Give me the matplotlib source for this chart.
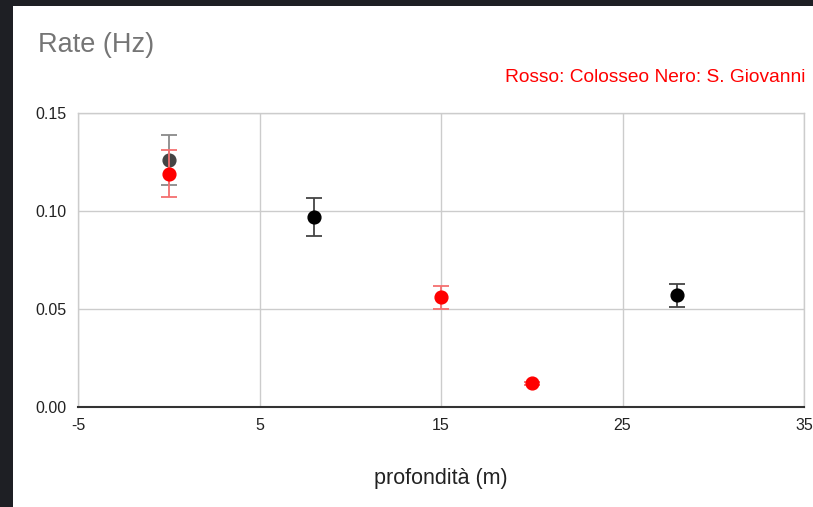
import matplotlib.pyplot as plt
from matplotlib.patches import Rectangle

# profondita' (m) e rate (Hz)
x_rosso = [0, 15, 20]
y_rosso = [0.119, 0.056, 0.012]
err_rosso = [0.012, 0.0058, 0.001]

x_nero = [0, 8, 28]
y_nero = [0.126, 0.097, 0.057]
err_nero = [0.0126, 0.0098, 0.0058]
col_nero = ['#444444', '#000000', '#000000']
errcol_nero = ['#8a8a8a', '#444444', '#444444']

x_ticks = [-5, 5, 15, 25, 35]
y_ticks = [0.0, 0.05, 0.10, 0.15]


def main():
    plt.rcParams['font.family'] = ['Liberation Sans', 'DejaVu Sans']

    fig = plt.figure(figsize=(8.13, 5.07), dpi=100, facecolor='white')
    # dark window frame (left and top)
    fig.patches.append(Rectangle((0, 0), 13 / 813, 1, transform=fig.transFigure,
                                 facecolor='#1e1f24', edgecolor='none', zorder=-1))
    fig.patches.append(Rectangle((0, 501 / 507), 1, 6 / 507, transform=fig.transFigure,
                                 facecolor='#1e1f24', edgecolor='none', zorder=-1))
    ax = fig.add_axes([78 / 813, 100 / 507, 726 / 813, 294 / 507])

    for x, y, e, c, ec in zip(x_nero, y_nero, err_nero, col_nero, errcol_nero):
        ax.errorbar(x, y, yerr=e, fmt='o', color=c, ecolor=ec, markersize=9.2,
                    elinewidth=1.3, capsize=6, capthick=1.3, zorder=3)
    ax.errorbar(x_rosso, y_rosso, yerr=err_rosso, fmt='o', color='#ff0000',
                ecolor='#f47070', markersize=9.2, elinewidth=1.3, capsize=6,
                capthick=1.3, zorder=4)

    ax.set_xlim(-5, 35)
    ax.set_ylim(0, 0.15)
    ax.set_xticks(x_ticks)
    ax.set_xticklabels([str(t) for t in x_ticks])
    ax.set_yticks(y_ticks)
    ax.set_yticklabels(['%.2f' % t for t in y_ticks])
    ax.tick_params(length=0, labelsize=11.5, colors='#222222')
    ax.tick_params(axis='y', pad=8)
    ax.tick_params(axis='x', pad=8)
    ax.grid(color='#cccccc', linewidth=1, zorder=0)
    for s in ['top', 'right', 'left']:
        ax.spines[s].set_color('#cccccc')
        ax.spines[s].set_linewidth(1)
    ax.spines['bottom'].set_color('#333333')
    ax.spines['bottom'].set_linewidth(1.5)
    ax.set_axisbelow(True)

    ax.set_xlabel('profondità (m)', fontsize=15.5, color='#222222', labelpad=25)
    fig.text(38 / 813, 1 - 45 / 507, 'Rate (Hz)', fontsize=19.5, color='#757575',
             ha='left', va='center')
    fig.text(805 / 813, 1 - 77 / 507, 'Rosso: Colosseo Nero: S. Giovanni',
             fontsize=13.8, color='#ff0000', ha='right', va='center')

    fig.savefig('out.png', dpi=100)


if __name__ == '__main__':
    main()
